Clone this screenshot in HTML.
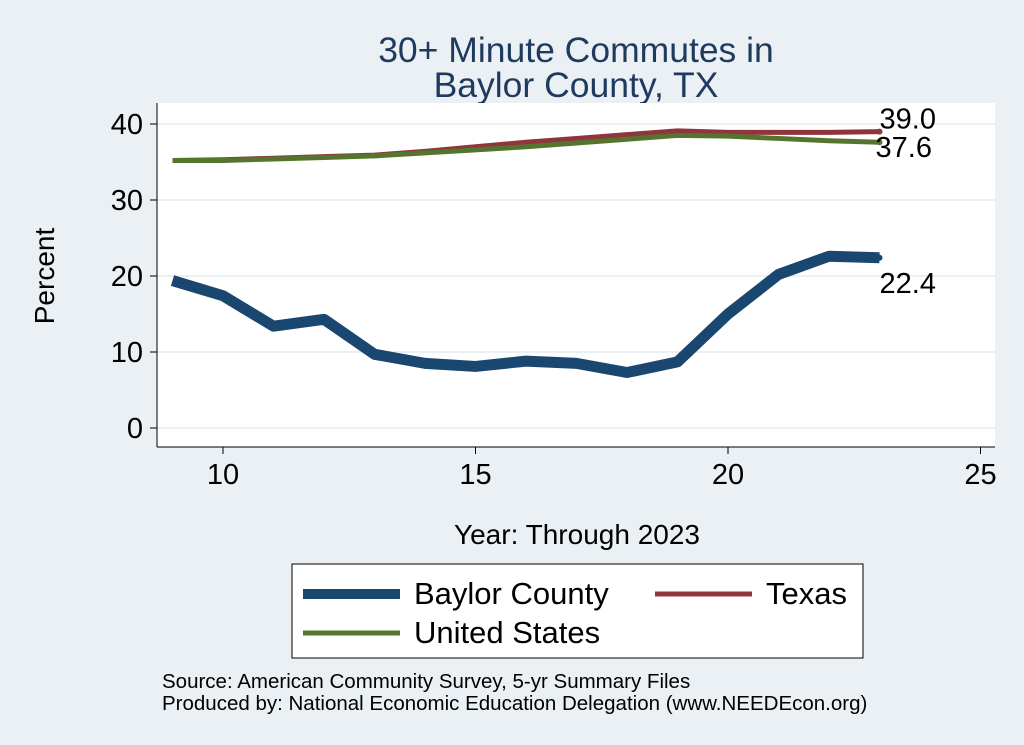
<!DOCTYPE html>
<html><head><meta charset="utf-8"><style>
body{margin:0;background:#eaf0f3;font-family:"Liberation Sans",sans-serif;}
svg{display:block}
</style></head><body>
<svg width="1024" height="745" viewBox="0 0 1024 745">
<rect x="0" y="0" width="1024" height="745" fill="#eaf0f3"/>
<text x="576" y="62" text-anchor="middle" font-size="35.5" fill="#1e3a5f">30+ Minute Commutes in</text>
<text x="576" y="97" text-anchor="middle" font-size="35.5" fill="#1e3a5f">Baylor County, TX</text>
<rect x="157" y="103" width="838" height="344" fill="#fff"/>
<g id="grid"></g><g id="axes"></g><g id="series"></g>
<text x="577" y="544" text-anchor="middle" font-size="28" fill="#000">Year: Through 2023</text>
<text transform="translate(54,276) rotate(-90)" text-anchor="middle" font-size="28" fill="#000">Percent</text>
<g>
<rect x="292" y="564" width="571" height="94" fill="#fff" stroke="#000" stroke-width="1"/>
<line x1="303" y1="594" x2="400" y2="594" stroke="#1a476f" stroke-width="10"/>
<text x="414" y="604" font-size="31">Baylor County</text>
<line x1="655" y1="594" x2="752" y2="594" stroke="#90353b" stroke-width="5"/>
<text x="766" y="604" font-size="31">Texas</text>
<line x1="303" y1="633" x2="400" y2="633" stroke="#55752f" stroke-width="5"/>
<text x="414" y="643" font-size="31">United States</text>
</g>
<text x="162" y="688" font-size="20.5">Source: American Community Survey, 5-yr Summary Files</text>
<text x="162" y="710" font-size="20.5">Produced by: National Economic Education Delegation (www.NEEDEcon.org)</text>
</svg>
<script>
const years=[9,10,11,12,13,14,15,16,17,18,19,20,21,22,23];
const baylor=[19.4,17.4,13.4,14.3,9.7,8.5,8.1,8.8,8.5,7.3,8.7,15.0,20.2,22.6,22.4];
const texas=[35.2,35.3,35.5,35.7,35.9,36.4,37.0,37.6,38.1,38.6,39.1,38.9,38.9,38.9,39.0];
const us=[35.2,35.2,35.4,35.6,35.8,36.2,36.6,37.0,37.5,38.0,38.5,38.4,38.1,37.8,37.6];
const yTicks=[0,10,20,30,40];
const xTicks=[10,15,20,25];
const NS="http://www.w3.org/2000/svg";
function xs(v){return 223+(v-10)*50.5;}
function ys(v){return 428-v*7.6;}
function mk(tag,attrs,parent,txt){const e=document.createElementNS(NS,tag);for(const k in attrs)e.setAttribute(k,attrs[k]);if(txt!==undefined)e.textContent=txt;document.getElementById(parent).appendChild(e);return e;}
yTicks.forEach(t=>{
 const g=mk('line',{x1:157,x2:995,y1:ys(t),y2:ys(t),stroke:'#eaf0f3','stroke-width':2},'grid');
 
 
 const tk=mk('line',{x1:150,x2:157,y1:ys(t),y2:ys(t),stroke:'#000'},'axes');
 
 
 const l=mk('text',{x:143,y:ys(t)+10,'text-anchor':'end','font-size':29},'axes',String(t));
 
 
});
xTicks.forEach(t=>{
 const tk=mk('line',{x1:xs(t),x2:xs(t),y1:447,y2:454,stroke:'#000'},'axes');
 
 
 const l=mk('text',{x:xs(t),y:484,'text-anchor':'middle','font-size':29},'axes',String(t));
 
 
});
const ya=mk('line',{x1:157,x2:157,y1:103,y2:447,stroke:'#000'},'axes');


const xa=mk('line',{x1:157,x2:995,y1:447,y2:447,stroke:'#000'},'axes');


function series(vals,color,w,name){
 const p=mk('polyline',{points:years.map((y,i)=>xs(y)+','+ys(vals[i])).join(' '),fill:'none',stroke:color,'stroke-width':w,'stroke-linejoin':'round'},'series');
 
 
 const d=mk('circle',{cx:xs(years[years.length-1]),cy:ys(vals[vals.length-1]),r:3,fill:color},'series');
 
 
}
series(texas,'#90353b',5,'line-texas');
series(us,'#55752f',5,'line-us');
series(baylor,'#1a476f',11,'line-baylor');
const lx=xs(23);
const l1=mk('text',{x:lx,y:ys(texas[14])-3,'font-size':29},'series',texas[14].toFixed(1));


const l2=mk('text',{x:lx-4,y:ys(us[14])+15,'font-size':29},'series',us[14].toFixed(1));


const l3=mk('text',{x:lx,y:ys(baylor[14])+35,'font-size':29},'series',baylor[14].toFixed(1));


</script>
</body></html>
